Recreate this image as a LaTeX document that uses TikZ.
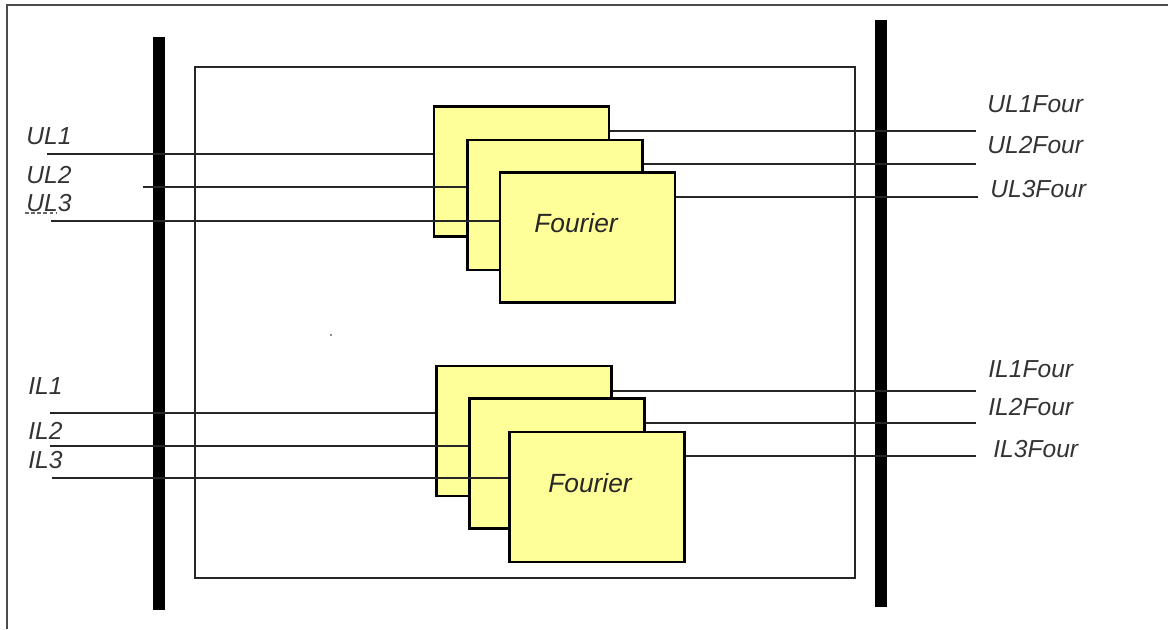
\documentclass[tikz,border=0pt]{standalone}
\usepackage{fontspec}
\setmainfont{Liberation Sans}
\usetikzlibrary{positioning}
\definecolor{boxyellow}{RGB}{255,255,153}

\begin{document}
\begin{tikzpicture}[x=0.02cm, y=-0.02cm]
  \tikzstyle{fourierbox} = [rectangle, draw=black, fill=boxyellow, line width=1.4pt, minimum width=3.5cm, minimum height=2.6cm, inner sep=0pt]
  \tikzstyle{wire} = [line width=1.1pt, black!85]
  \tikzstyle{bus} = [line width=0.24cm, black]
  \tikzstyle{lbl} = [anchor=base west, inner sep=0pt, font=\fontsize{14}{16}\selectfont\itshape, text=black!80]
  \tikzstyle{boxtext} = [inner sep=0pt, font=\fontsize{15}{17}\selectfont\itshape, text=black!85]

  \useasboundingbox (0,0) rectangle (1168,629);

  % outer frame (top and left only)
  \draw [line width=1.1pt, black!70] (7,629) -- (7,5) -- (1168,5);

  % inner block and the two bars
  \draw [line width=1.1pt, black!85] (195,67) rectangle (855,578);
  \draw [bus] (159,37) -- (159,610);
  \draw [bus] (881,20) -- (881,607);
  \fill [black!60] (331,335) circle (0.6pt);

  % voltage stack
  \node (u1) [fourierbox] at (521.5,171.5) {};
  \node (u2) [fourierbox] at (555,205) {};
  \node (u3) [fourierbox] at (587.5,237.5) {};
  \node (utxt) [boxtext] at (576,223) {Fourier};

  % current stack
  \node (l1) [fourierbox] at (524,431) {};
  \node (l2) [fourierbox] at (557,463.5) {};
  \node (l3) [fourierbox] at (597,497) {};
  \node (ltxt) [boxtext] at (590,483) {Fourier};

  % inputs
  \coordinate (ul1) at (47,154);
  \coordinate (ul2) at (143,187);
  \coordinate (ul3) at (51,221);
  \coordinate (il1) at (50,413);
  \coordinate (il2) at (50,446);
  \coordinate (il3) at (52,478);
  \draw [wire] (ul1) -- (ul1 -| u1.west);
  \draw [wire] (ul2) -- (ul2 -| u2.west);
  \draw [wire] (ul3) -- (ul3 -| u3.west);
  \draw [wire] (il1) -- (il1 -| l1.west);
  \draw [wire] (il2) -- (il2 -| l2.west);
  \draw [wire] (il3) -- (il3 -| l3.west);

  % outputs
  \coordinate (ul1f) at (976,131);
  \coordinate (ul2f) at (976,164);
  \coordinate (ul3f) at (978,197);
  \coordinate (il1f) at (976,391);
  \coordinate (il2f) at (976,423);
  \coordinate (il3f) at (976,456);
  \draw [wire] (ul1f -| u1.east) -- (ul1f);
  \draw [wire] (ul2f -| u2.east) -- (ul2f);
  \draw [wire] (ul3f -| u3.east) -- (ul3f);
  \draw [wire] (il1f -| l1.east) -- (il1f);
  \draw [wire] (il2f -| l2.east) -- (il2f);
  \draw [wire] (il3f -| l3.east) -- (il3f);

  % labels
  \node (ul1lbl) [lbl] at (26,144) {UL1};
  \node (ul2lbl) [lbl] at (26,183) {UL2};
  \node (ul3lbl) [lbl] at (26,211) {UL3};
  \draw [line width=0.6pt, black!60, dash pattern=on 2pt off 1.5pt] (25,213) -- (57,213);
  \node (il1lbl) [lbl] at (28,394) {IL1};
  \node (il2lbl) [lbl] at (28,439) {IL2};
  \node (il3lbl) [lbl] at (28,468) {IL3};
  \node (ul1flbl) [lbl] at (987,112) {UL1Four};
  \node (ul2flbl) [lbl] at (987,153) {UL2Four};
  \node (ul3flbl) [lbl] at (990,197) {UL3Four};
  \node (il1flbl) [lbl] at (988,377) {IL1Four};
  \node (il2flbl) [lbl] at (988,415) {IL2Four};
  \node (il3flbl) [lbl] at (993,457) {IL3Four};
\end{tikzpicture}
\end{document}
